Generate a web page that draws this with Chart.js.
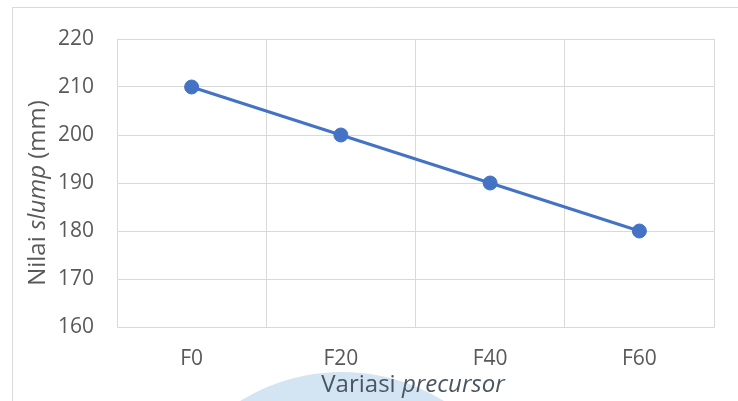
<!DOCTYPE html>
<html>
<head>
<meta charset="utf-8">
<script src="https://cdn.jsdelivr.net/npm/chart.js@4"></script>
<style>
  html, body { margin: 0; padding: 0; background: #ffffff; }
  #wrap { width: 738px; height: 401px; }
</style>
</head>
<body>
<div id="wrap"><canvas id="c" width="738" height="401"></canvas></div>
<script>
// Slump value for each precursor variation
const categories = ['F0', 'F20', 'F40', 'F60'];
const slumpValues = [210, 200, 190, 180];
const yTicks = [160, 170, 180, 190, 200, 210, 220];

const FONT = '"Open Sans", "Noto Sans", sans-serif';
const TEXT = '#595959';
const GRID = '#d9d9d9';

// Draws text made of plain/italic runs, centred on (0,0) of the current transform
function drawRuns(ctx, runs, size) {
  const fonts = runs.map(r => (r.italic ? 'italic ' : '') + size + 'px ' + FONT);
  let total = 0;
  const widths = runs.map((r, i) => { ctx.font = fonts[i]; const w = ctx.measureText(r.text).width; total += w; return w; });
  let x = -total / 2;
  runs.forEach((r, i) => {
    ctx.font = fonts[i];
    ctx.textAlign = 'left';
    ctx.textBaseline = 'alphabetic';
    ctx.fillText(r.text, x, 0);
    x += widths[i];
  });
}

const decor = {
  id: 'decor',
  beforeDraw(chart) {
    const ctx = chart.ctx;
    ctx.save();
    // outer frame
    ctx.strokeStyle = GRID;
    ctx.lineWidth = 1;
    ctx.beginPath();
    ctx.moveTo(12.5, 401);
    ctx.lineTo(12.5, 7.5);
    ctx.lineTo(738, 7.5);
    ctx.stroke();
    // pale blue emblem at the foot of the page
    ctx.fillStyle = '#d3e5f2';
    ctx.beginPath();
    ctx.arc(342, 566, 194, 0, Math.PI * 2);
    ctx.fill();
    ctx.restore();
  },
  afterDraw(chart) {
    const ctx = chart.ctx;
    ctx.save();
    // x-axis title
    ctx.save();
    ctx.fillStyle = '#4a5560';
    ctx.translate(413, 392);
    drawRuns(ctx, [{ text: 'Variasi ' }, { text: 'precursor', italic: true }], 24);
    ctx.restore();
    // y-axis title
    ctx.save();
    ctx.fillStyle = TEXT;
    ctx.translate(45, 193);
    ctx.rotate(-Math.PI / 2);
    drawRuns(ctx, [{ text: 'Nilai ' }, { text: 'slump', italic: true }, { text: ' (mm)' }], 24);
    ctx.restore();
    ctx.restore();
  }
};

new Chart(document.getElementById('c'), {
  type: 'line',
  data: {
    labels: categories,
    datasets: [{
      data: slumpValues,
      borderColor: '#4472C4',
      backgroundColor: '#4472C4',
      borderWidth: 3,
      pointRadius: 7,
      pointHoverRadius: 7,
      pointBackgroundColor: '#4472C4',
      pointBorderColor: '#4472C4',
      pointBorderWidth: 1,
      tension: 0
    }]
  },
  options: {
    responsive: false,
    animation: false,
    devicePixelRatio: 1,
    layout: { padding: { left: 0, top: 39, right: 24, bottom: 0 } },
    plugins: { legend: { display: false }, tooltip: { enabled: false } },
    scales: {
      x: {
        type: 'category',
        offset: true,
        grid: { offset: true, color: GRID, lineWidth: 1, drawTicks: false },
        border: { color: GRID, width: 1 },
        ticks: { color: TEXT, font: { family: FONT, size: 21 }, padding: 19, maxRotation: 0 },
        afterFit(scale) { scale.height = 74; }
      },
      y: {
        min: 160,
        max: 220,
        afterBuildTicks(scale) { scale.ticks = yTicks.map(v => ({ value: v })); },
        grid: { color: GRID, lineWidth: 1, drawTicks: false },
        border: { color: GRID, width: 1 },
        ticks: { color: TEXT, font: { family: FONT, size: 21 }, padding: 23 },
        afterFit(scale) { scale.width = 117; }
      }
    }
  },
  plugins: [decor]
});
</script>
</body>
</html>
